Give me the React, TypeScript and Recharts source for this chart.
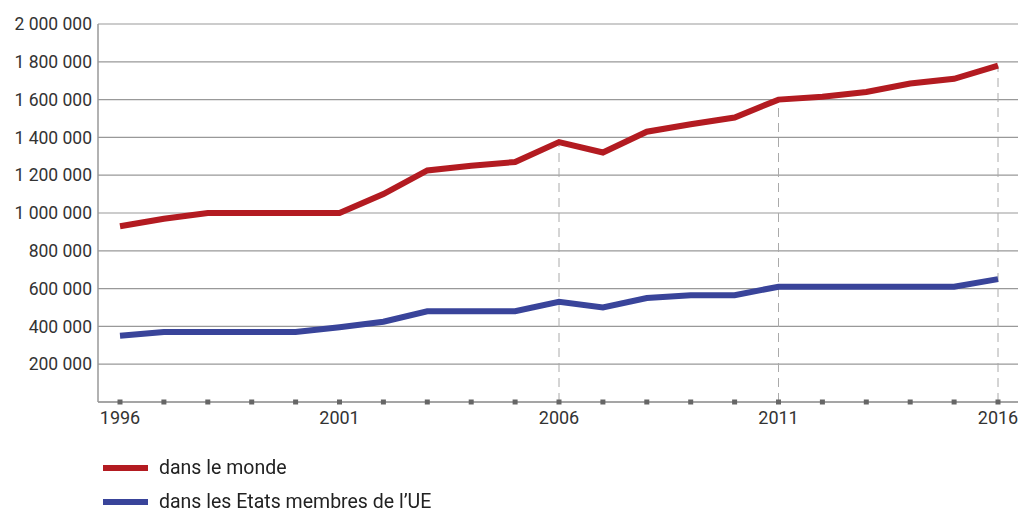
import React from "react";
import {
  LineChart,
  Line,
  XAxis,
  YAxis,
  CartesianGrid,
  ReferenceLine,
} from "recharts";

// années et valeurs
const years = [
  1996, 1997, 1998, 1999, 2000, 2001, 2002, 2003, 2004, 2005, 2006, 2007,
  2008, 2009, 2010, 2011, 2012, 2013, 2014, 2015, 2016,
];
const monde = [
  930000, 970000, 1000000, 1000000, 1000000, 1000000, 1100000, 1225000,
  1250000, 1270000, 1375000, 1320000, 1430000, 1470000, 1505000, 1600000,
  1615000, 1640000, 1685000, 1710000, 1780000,
];
const ue = [
  350000, 370000, 370000, 370000, 370000, 395000, 425000, 480000, 480000,
  480000, 530000, 500000, 550000, 565000, 565000, 610000, 610000, 610000,
  610000, 610000, 650000,
];
const yTicks = [
  200000, 400000, 600000, 800000, 1000000, 1200000, 1400000, 1600000,
  1800000, 2000000,
];
const labeledYears = [1996, 2001, 2006, 2011, 2016];
const markerYears = [2006, 2011, 2016];

const RED = "#b31b21";
const BLUE = "#39449a";
const FONT = "Roboto, 'Noto Sans', sans-serif";

const data = years.map((y, i) => ({ year: y, monde: monde[i], ue: ue[i] }));

const fmt = (v: number) =>
  String(v).replace(/\B(?=(\d{3})+(?!\d))/g, " ");

const YearTick = (props: any) => {
  const { x, y, payload } = props;
  const show = labeledYears.includes(payload.value);
  return (
    <g>
      <rect x={x - 2.5} y={y - 2.5} width={5} height={5} fill="#666" />
      {show && (
        <text
          x={x}
          y={y + 22}
          textAnchor="middle"
          fontSize={18}
          fill="#333"
          fontFamily={FONT}
        >
          {payload.value}
        </text>
      )}
    </g>
  );
};

export default function App() {
  return (
    <div
      style={{
        position: "fixed",
        left: 0,
        top: 0,
        width: 1025,
        height: 513,
        background: "#fff",
        fontFamily: FONT,
      }}
    >
      <LineChart
        width={1025}
        height={440}
        data={data}
        margin={{ top: 24, right: 7, left: 0, bottom: 0 }}
      >
        <CartesianGrid vertical={false} stroke="#999" strokeWidth={1.2} />
        <XAxis
          dataKey="year"
          type="category"
          interval={0}
          height={38}
          padding={{ left: 22, right: 20 }}
          axisLine={{ stroke: "#999", strokeWidth: 1.5 }}
          tickLine={false}
          tickSize={0}
          tickMargin={0}
          tick={<YearTick />}
        />
        <YAxis
          width={98}
          domain={[0, 2000000]}
          ticks={yTicks}
          interval={0}
          tickFormatter={fmt}
          axisLine={{ stroke: "#999", strokeWidth: 1.5 }}
          tickLine={false}
          tickSize={0}
          tickMargin={6}
          tick={{ fontSize: 17.5, fill: "#333", fontFamily: FONT }}
        />
        {markerYears.map((yr) => (
          <ReferenceLine
            key={yr}
            segment={[
              { x: yr, y: 0 },
              { x: yr, y: monde[years.indexOf(yr)] },
            ]}
            stroke="#aaa"
            strokeDasharray="9 6"
          />
        ))}
        <Line
          dataKey="monde"
          stroke={RED}
          strokeWidth={6}
          dot={false}
          isAnimationActive={false}
        />
        <Line
          dataKey="ue"
          stroke={BLUE}
          strokeWidth={6}
          dot={false}
          isAnimationActive={false}
        />
      </LineChart>
      <div
        style={{
          position: "absolute",
          left: 103,
          top: 457,
          fontSize: 19.5,
          lineHeight: "20px",
          color: "#222",
        }}
      >
        {[
          { name: "dans le monde", color: RED },
          { name: "dans les Etats membres de l\u2019UE", color: BLUE },
        ].map((it) => (
          <div
            key={it.name}
            style={{
              display: "flex",
              alignItems: "center",
              height: 22,
              marginBottom: 12,
            }}
          >
            <span
              style={{
                display: "inline-block",
                width: 45,
                height: 6,
                background: it.color,
                marginRight: 11,
              }}
            />
            <span>{it.name}</span>
          </div>
        ))}
      </div>
    </div>
  );
}
